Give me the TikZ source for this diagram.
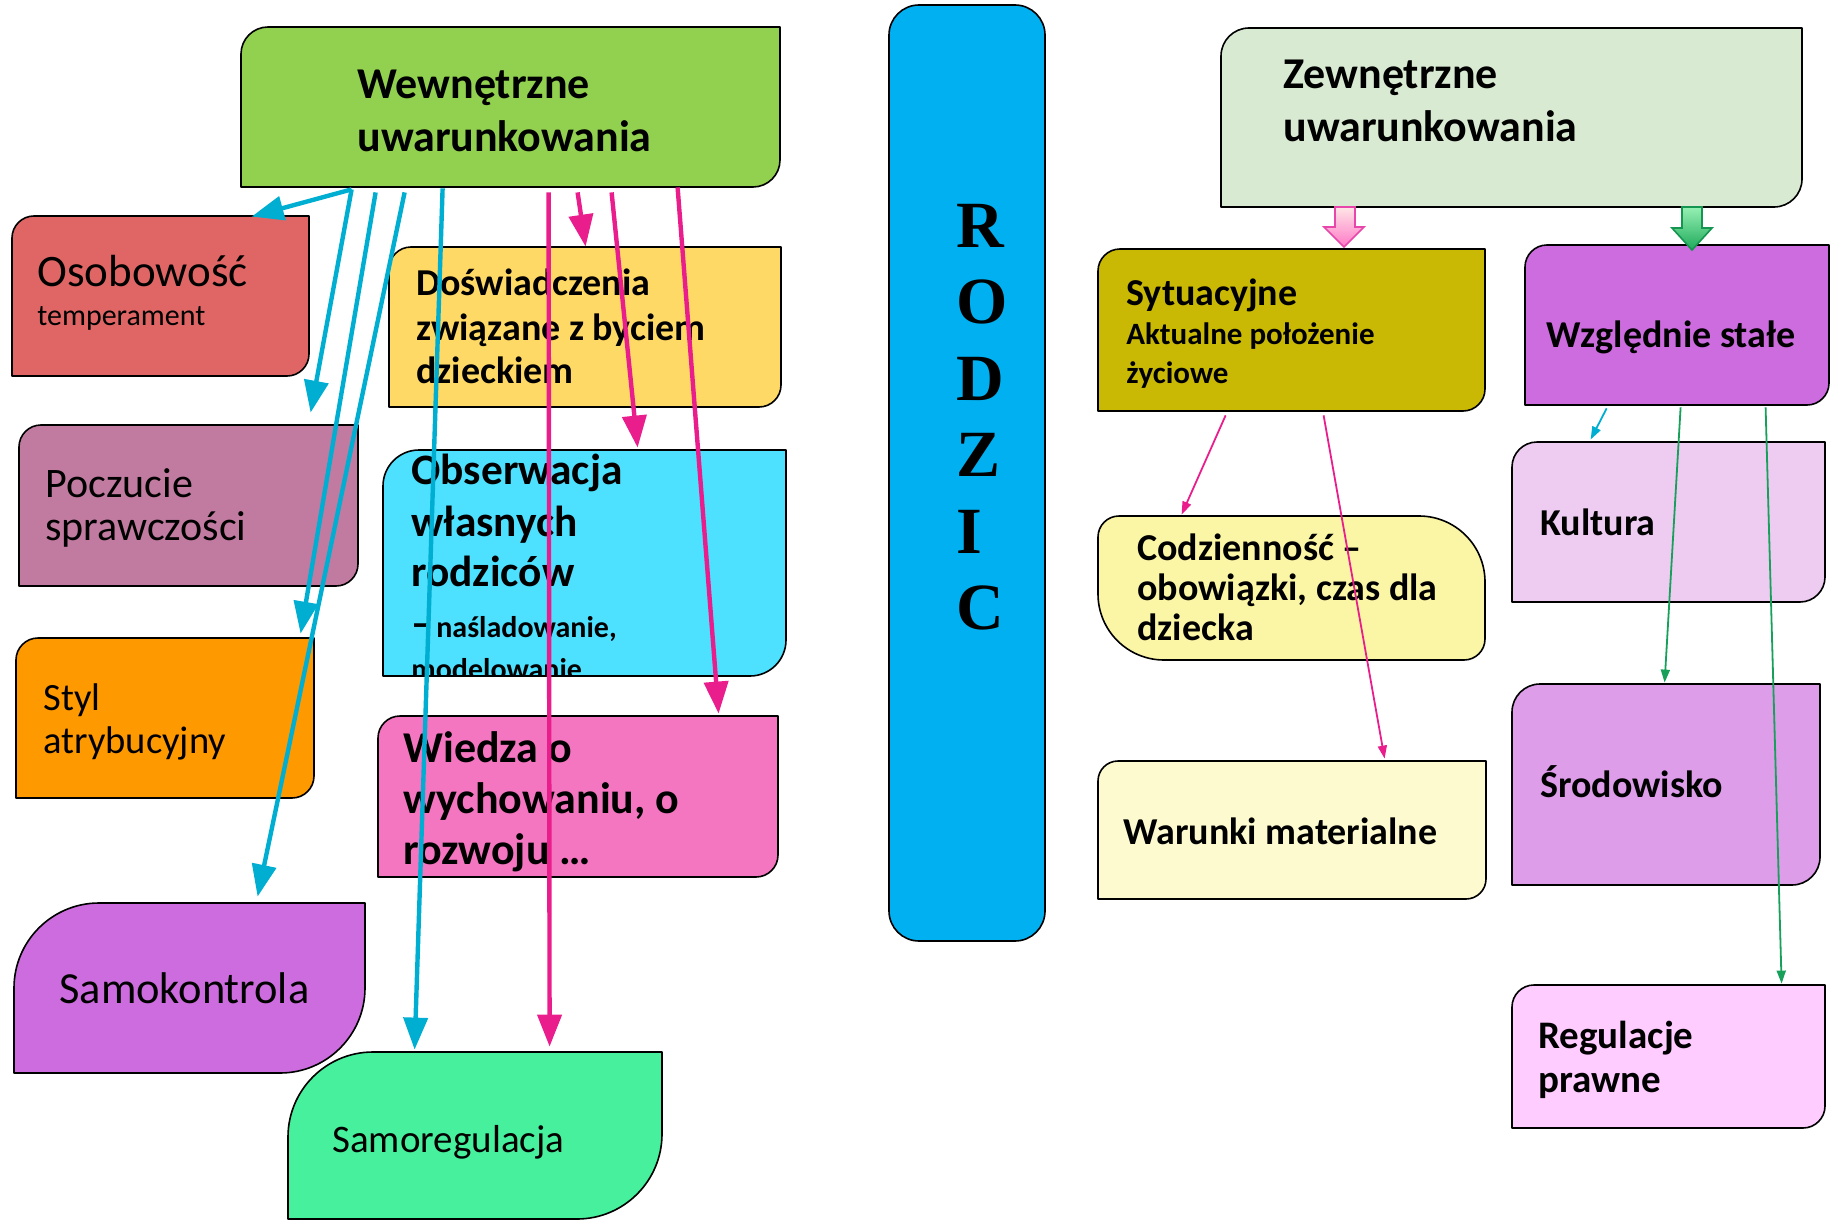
\documentclass[tikz,border=0pt]{standalone}
\usepackage{fontspec}
\setmainfont{Carlito}
\newfontfamily\rodfont{Liberation Serif}
\usetikzlibrary{arrows.meta,calc,fit}
\definecolor{cwew}{RGB}{146,208,80}
\definecolor{coso}{RGB}{224,102,102}
\definecolor{cpocz}{RGB}{194,123,160}
\definecolor{cstyl}{RGB}{255,153,0}
\definecolor{csamok}{RGB}{204,108,222}
\definecolor{csamor}{RGB}{70,240,156}
\definecolor{cdosw}{RGB}{255,217,102}
\definecolor{cobs}{RGB}{77,225,255}
\definecolor{cwied}{RGB}{244,118,192}
\definecolor{crod}{RGB}{0,176,240}
\definecolor{czew}{RGB}{217,234,211}
\definecolor{csyt}{RGB}{201,185,5}
\definecolor{cwzg}{RGB}{204,108,222}
\definecolor{ccodz}{RGB}{251,245,166}
\definecolor{cwar}{RGB}{253,250,208}
\definecolor{ckult}{RGB}{238,204,242}
\definecolor{csrod}{RGB}{221,157,232}
\definecolor{creg}{RGB}{255,204,255}
\definecolor{ablue}{RGB}{0,174,210}
\definecolor{apink}{RGB}{233,30,140}
\definecolor{agreen}{RGB}{22,160,90}
% #1 name, #2 fill, #3 x1, #4 y1, #5 x2, #6 y2, #7 radius TL/BR (px), #8 radius TR/BL (px)
\newcommand\rbox[8]{%
  \draw[boxline, fill=#2]
    ({#3+#7},#4) -- ({#5-#8},#4)
      .. controls ({#5-0.448*#8},#4) and (#5,{#4+0.448*#8}) .. (#5,{#4+#8})
    -- (#5,{#6-#7})
      .. controls (#5,{#6-0.448*#7}) and ({#5-0.448*#7},#6) .. ({#5-#7},#6)
    -- ({#3+#8},#6)
      .. controls ({#3+0.448*#8},#6) and (#3,{#6-0.448*#8}) .. (#3,{#6-#8})
    -- (#3,{#4+#7})
      .. controls (#3,{#4+0.448*#7}) and ({#3+0.448*#7},#4) .. ({#3+#7},#4)
    -- cycle;
  \node[fit={(#3,#4) (#5,#6)}, inner sep=0pt] (#1) {};
}
\begin{document}
\begin{tikzpicture}[x=0.5pt,y=-0.5pt,
  boxline/.style={draw=black, line width=0.8pt, line join=round},
  tx/.style={anchor=base west, inner sep=0pt},
  rg/.style={tx, font=\fontsize{#1}{#1}\selectfont},
  bd/.style={tx, font=\bfseries\fontsize{#1}{#1}\selectfont},
  barrow/.style={draw=ablue, line width=2.2pt, -{Triangle[length=16pt,width=12pt]}},
  parrow/.style={draw=apink, line width=2.2pt, -{Triangle[length=16pt,width=12pt]}},
  tarrow/.style={line width=0.9pt, -{Triangle[length=6.5pt,width=4.5pt]}},
  rodl/.style={tx, font=\rodfont\bfseries\fontsize{33}{33}\selectfont}]
\useasboundingbox (0,0) rectangle (1831,1220);

% ---------- boxes ----------
\rbox{wew}{cwew}{241}{27}{780}{187}{27}{0}
\rbox{oso}{coso}{12}{216}{309}{376}{22}{0}
\rbox{pocz}{cpocz}{19}{425}{358}{586}{22}{0}
\rbox{styl}{cstyl}{16}{638}{314}{798}{22}{0}
\rbox{samok}{csamok}{14}{903}{365}{1073}{85}{0}
\rbox{samor}{csamor}{288}{1052}{662}{1219}{85}{0}
\rbox{dosw}{cdosw}{389}{247}{781}{407}{22}{0}
\rbox{obs}{cobs}{383}{450}{786}{676}{36}{0}
\rbox{wied}{cwied}{378}{716}{778}{877}{22}{0}
\rbox{rod}{crod}{889}{5}{1045}{941}{30}{30}
\rbox{zew}{czew}{1221}{28}{1802}{207}{28}{0}
\rbox{syt}{csyt}{1098}{249}{1485}{411}{22}{0}
\rbox{wzg}{cwzg}{1525}{245}{1829}{405}{22}{0}
\rbox{codz}{ccodz}{1098}{516}{1485}{660}{21}{66}
\rbox{war}{cwar}{1098}{761}{1486}{899}{20}{0}
\rbox{kult}{ckult}{1512}{442}{1825}{602}{25}{0}
\rbox{srod}{csrod}{1512}{684}{1820}{885}{28}{0}
\rbox{reg}{creg}{1512}{985}{1825}{1128}{22}{0}

% ---------- texts ----------
\node[bd=22] (t1) at (357,99) {Wewnętrzne};
\node[bd=22] (t2) at (357,152) {uwarunkowania};
\node[rg=22.5] (t3) at (37,286) {Osobowość};
\node[rg=15] (t4) at (37,325) {temperament};
\node[rg=21] (t5) at (45,497) {Poczucie};
\node[rg=21] (t6) at (45,540) {sprawczości};
\node[rg=19.3] (t7) at (43,710) {Styl};
\node[rg=19.3] (t8) at (43,753) {atrybucyjny};
\node[rg=22.2] (t9) at (59,1003) {Samokontrola};
\node[rg=19.5] (t10) at (332,1152) {Samoregulacja};
\node[bd=19] (t11) at (416,295) {Doświadczenia};
\node[bd=19] (t12) at (416,340) {związane z byciem};
\node[bd=19] (t13) at (416,383) {dzieckiem};
\node[bd=21.7] (t14) at (411,484) {Obserwacja};
\node[bd=21.7] (t15) at (411,536) {własnych};
\node[bd=21.7] (t16) at (411,586) {rodziców};
\node[bd=15] (t17) at (411,637) {{\fontsize{21}{21}\selectfont –}\hspace{2pt}naśladowanie,};
\begin{scope}
  \clip (383,450) rectangle (786,676);
  \node[bd=15] (t18) at (411,679) {modelowanie};
\end{scope}
\node[bd=22] (t19) at (403,762) {Wiedza o};
\node[bd=22] (t20) at (403,813) {wychowaniu, o};
\node[bd=22] (t21) at (403,864) {rozwoju …};
\node[bd=22] (t22) at (1283,89) {Zewnętrzne};
\node[bd=22] (t23) at (1283,141) {uwarunkowania};
\node[bd=19] (t24) at (1126,305) {Sytuacyjne};
\node[bd=15.5] (t25) at (1126,344) {Aktualne położenie};
\node[bd=15.5] (t26) at (1126,383) {życiowe};
\node[bd=19] (t27) at (1546,347) {Względnie stałe};
\node[bd=19] (t28) at (1137,560) {Codzienność –};
\node[bd=19] (t29) at (1137,600) {obowiązki, czas dla};
\node[bd=19] (t30) at (1137,640) {dziecka};
\node[bd=19] (t31) at (1123,844) {Warunki materialne};
\node[bd=19] (t32) at (1540,535) {Kultura};
\node[bd=19] (t33) at (1540,797) {Środowisko};
\node[bd=19.5] (t34) at (1538,1048) {Regulacje};
\node[bd=19.5] (t35) at (1538,1092) {prawne};
\node[rodl] (r1) at (956,247) {R};
\node[rodl] (r2) at (956,323.5) {O};
\node[rodl] (r3) at (956,400) {D};
\node[rodl] (r4) at (956,476.5) {Z};
\node[rodl] (r5) at (956,553) {I};
\node[rodl] (r6) at (956,629.5) {C};

% ---------- thick arrows ----------
\draw[barrow] ($(wew.south west)+(111,2)$) -- ($(oso.north west)+(240,1)$);
\draw[barrow] ($(wew.south west)+(111,2)$) -- ($(pocz.north west)+(292,-12)$);
\draw[barrow] ($(wew.south west)+(135,5)$) -- ($(styl.north west)+(285,-4)$);
\draw[barrow] ($(wew.south west)+(164,5)$) -- ($(samok.north west)+(244,-6)$);
\draw[barrow] ($(wew.south west)+(202,1)$) -- ($(samor.north west)+(127,-2)$);
\draw[parrow] ($(wew.south west)+(308,5)$) -- ($(samor.north west)+(262,-5)$);
\draw[parrow] ($(wew.south west)+(337,5)$) -- ($(dosw.north west)+(197,0)$);
\draw[parrow] ($(wew.south west)+(371,5)$) -- ($(obs.north west)+(255,-2)$);
\draw[parrow] ($(wew.south west)+(437,0)$) -- ($(wied.north west)+(341,-2)$);

% ---------- thin arrows ----------
\draw[tarrow, draw=apink, fill=apink] ($(syt.south west)+(128,4)$) -- ($(codz.north west)+(84,-1)$);
\draw[tarrow, draw=apink, fill=apink] ($(syt.south west)+(226,4)$) -- ($(war.north west)+(287,-2)$);
\draw[tarrow, draw=ablue, fill=ablue] ($(wzg.south west)+(82,3)$) -- ($(kult.north west)+(79,-2)$);
\draw[tarrow, draw=agreen, fill=agreen] ($(wzg.south west)+(156,2)$) -- ($(srod.north west)+(153,-1)$);
\draw[tarrow, draw=agreen, fill=agreen] ($(wzg.south west)+(241,2)$) -- ($(reg.north west)+(270,-1)$);

% ---------- block arrows ----------
\shade[top color=pink!40!white, bottom color={rgb,255:red,255;green,120;blue,200}, draw={rgb,255:red,232;green,70;blue,170}, line width=0.8pt]
  (1335,207) -- (1355,207) -- (1355,227) -- (1364,227) -- (1344,247) -- (1324,227) -- (1335,227) -- cycle;
\shade[top color={rgb,255:red,150;green,240;blue,180}, bottom color={rgb,255:red,30;green,170;blue,90}, draw={rgb,255:red,20;green,150;blue,80}, line width=0.8pt]
  (1682,207) -- (1702,207) -- (1702,228) -- (1712,228) -- (1692,250) -- (1672,228) -- (1682,228) -- cycle;
\end{tikzpicture}
\end{document}
